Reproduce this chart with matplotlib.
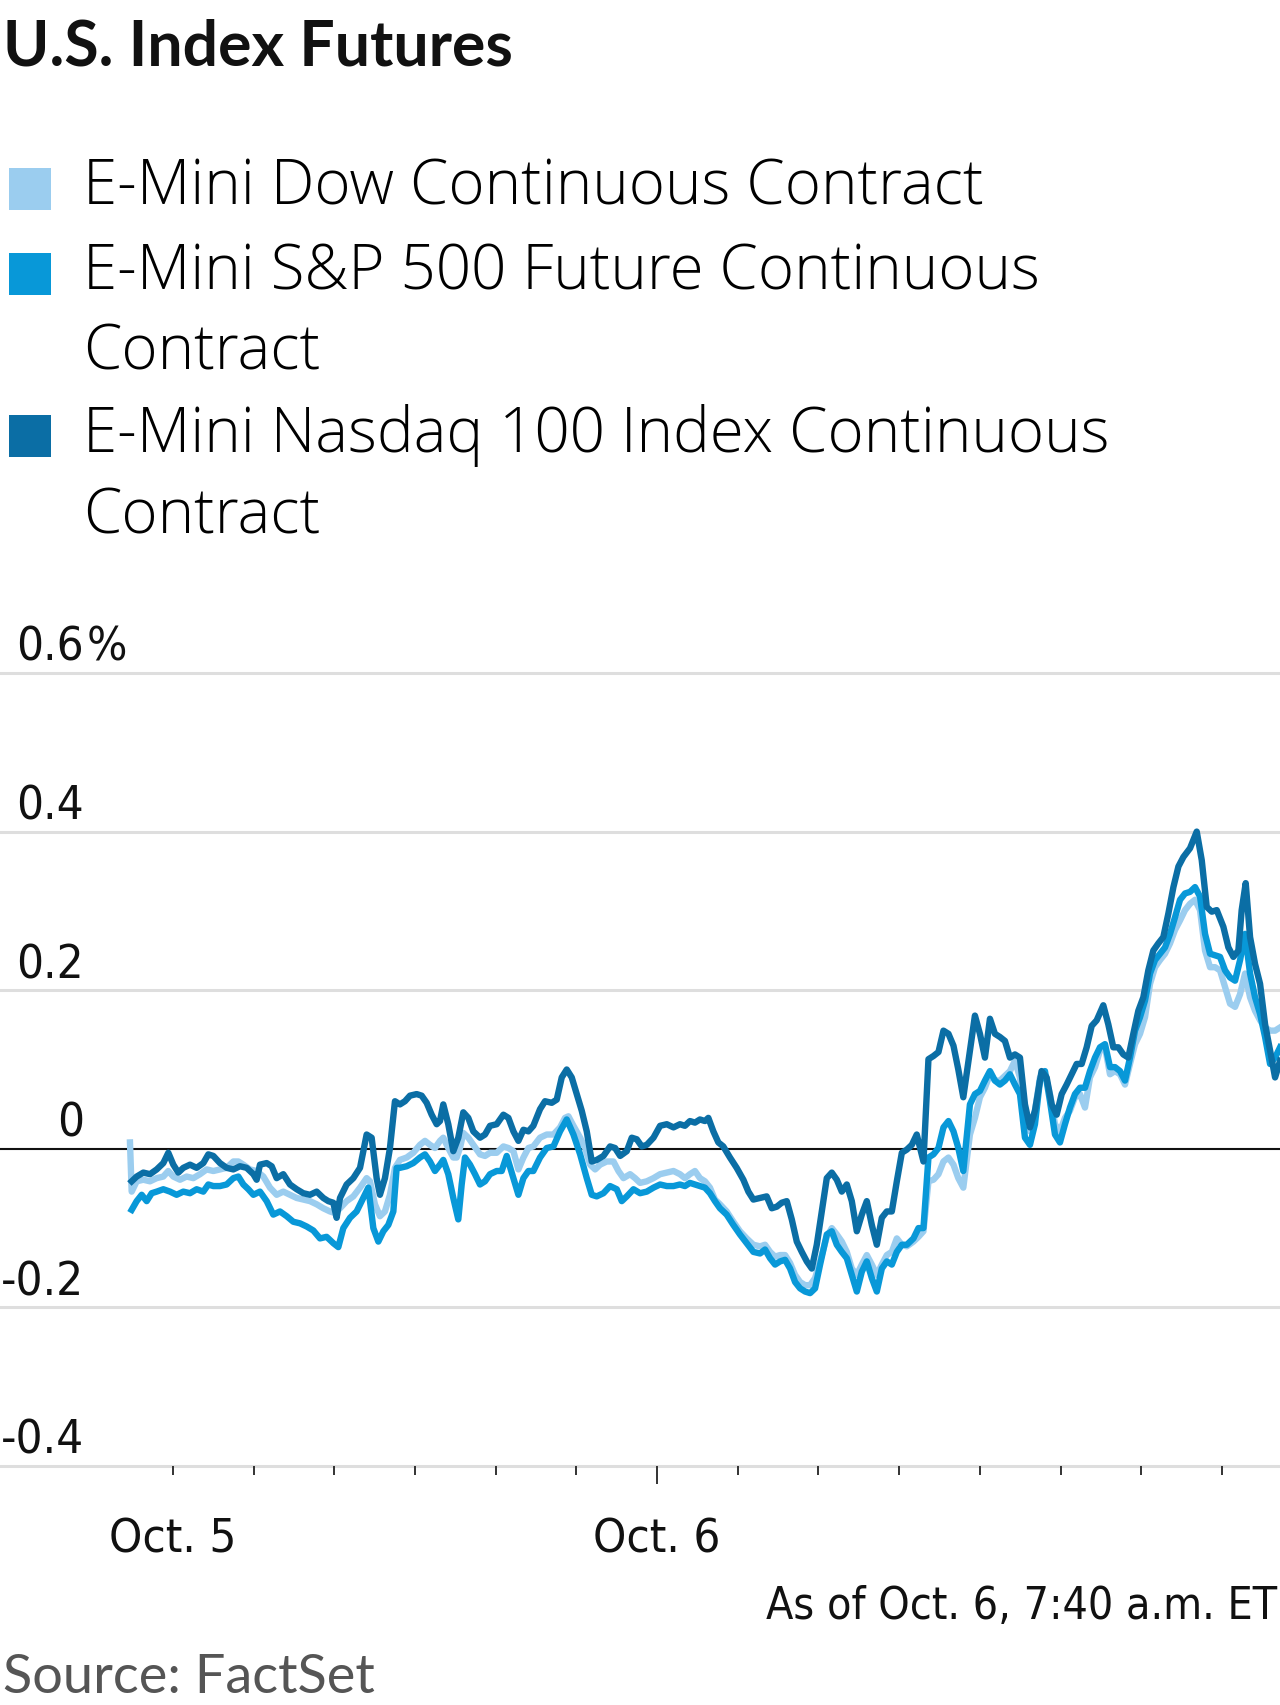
import matplotlib
matplotlib.use("Agg")
import matplotlib.pyplot as plt
import matplotlib.transforms as mtransforms
from matplotlib.patches import Rectangle
from matplotlib import font_manager
from matplotlib.font_manager import FontProperties

# pick fonts that exist in the box
installed = {f.name for f in font_manager.fontManager.ttflist}
SANS = "Lato" if "Lato" in installed else "DejaVu Sans"
LEGEND_FONT = "Open Sans" if "Open Sans" in installed else SANS


def find_narrow():
    # any condensed / narrow face, weight as close to light-regular as possible
    best = None
    for f in font_manager.fontManager.ttflist:
        nm = f.name.lower()
        narrowish = (f.stretch in ("condensed", "semi-condensed", "extra-condensed", "ultra-condensed")
                     or "narrow" in nm or "condensed" in nm)
        if not narrowish or f.style != "normal":
            continue
        w = f.weight if isinstance(f.weight, int) else 400
        score = abs(w - 370)
        if best is None or score < best[0]:
            best = (score, f.fname)
    return best[1] if best else None


narrow_file = find_narrow()


def narrow(size):
    if narrow_file:
        return FontProperties(fname=narrow_file, size=size)
    return FontProperties(family=SANS, size=size * 0.85)


TITLE = "U.S. Index Futures"
NOTE = "As of Oct. 6, 7:40 a.m. ET"
SOURCE = "Source: FactSet"

series_labels = ["E-Mini Dow Continuous Contract",
                 "E-Mini S&P 500 Future Continuous\nContract",
                 "E-Mini Nasdaq 100 Index Continuous\nContract"]
series_colors = ["#9bcdef", "#0898d8", "#0b6ea5"]

# x is in axis-tick units (Oct. 5 tick = 0, Oct. 6 tick = 6), y is % change
dow_x = [-0.533, -0.512, -0.450, -0.368, -0.285, -0.202, -0.120, -0.058, 0.004, 0.087, 0.169, 0.252, 0.335,
         0.417, 0.500, 0.582, 0.665, 0.748, 0.810, 0.872, 0.954, 1.037, 1.120, 1.202, 1.285, 1.367, 1.450,
         1.533, 1.615, 1.698, 1.781, 1.863, 1.946, 2.008, 2.070, 2.152, 2.235, 2.318, 2.400, 2.441, 2.503,
         2.565, 2.627, 2.689, 2.751,
         2.813, 2.896, 2.978, 3.061, 3.123, 3.185, 3.247, 3.309, 3.350, 3.412, 3.474, 3.516, 3.557, 3.598,
         3.660, 3.722, 3.805, 3.867, 3.929, 4.012, 4.095, 4.157, 4.219, 4.281, 4.343, 4.405, 4.466, 4.549,
         4.632, 4.715, 4.797, 4.859, 4.901, 4.963, 5.046, 5.108, 5.170, 5.232, 5.294, 5.376, 5.459, 5.521,
         5.583, 5.665, 5.727, 5.789, 5.872, 5.955, 6.037, 6.120, 6.203,
         6.283, 6.345, 6.407, 6.469, 6.531, 6.593, 6.655, 6.717, 6.779, 6.862, 6.945, 7.027, 7.110, 7.193,
         7.276, 7.338, 7.400, 7.462, 7.524, 7.586, 7.648, 7.710, 7.772, 7.834, 7.896, 7.958, 8.020, 8.103,
         8.165, 8.227, 8.289, 8.351, 8.413, 8.475, 8.537, 8.599, 8.661, 8.723, 8.785, 8.847, 8.909, 8.971,
         9.033, 9.095, 9.177, 9.239, 9.301, 9.363, 9.425, 9.487, 9.549, 9.611, 9.673, 9.733, 9.795,
         9.877, 9.939, 10.001, 10.063, 10.125, 10.187, 10.249, 10.311, 10.373, 10.435, 10.497, 10.559,
         10.621, 10.683, 10.745, 10.807, 10.869, 10.931, 10.993, 11.055, 11.117, 11.179, 11.241, 11.303,
         11.365, 11.427, 11.489, 11.551, 11.613, 11.675, 11.737, 11.799, 11.861, 11.923, 11.985, 12.047,
         12.109, 12.171, 12.233, 12.295, 12.357, 12.419, 12.481, 12.543, 12.605, 12.667, 12.729, 12.791,
         12.853, 12.915, 12.977, 13.039, 13.101, 13.163, 13.225, 13.287, 13.349, 13.411, 13.473, 13.535,
         13.597, 13.659, 13.721]
dow_y = [0.008, -0.054, -0.041, -0.039, -0.041, -0.037, -0.035, -0.028, -0.035, -0.039, -0.035, -0.037, -0.032,
         -0.026, -0.028, -0.026, -0.024, -0.016, -0.016, -0.020, -0.026, -0.028, -0.035, -0.049, -0.058, -0.054,
         -0.058, -0.062, -0.064, -0.066, -0.070, -0.075, -0.079, -0.081, -0.075, -0.066, -0.060, -0.049, -0.037,
         -0.041, -0.070, -0.085, -0.079, -0.058, -0.024,
         -0.014, -0.011, -0.005, 0.005, 0.010, 0.005, 0.001, 0.010, 0.014, 0.001, -0.011, -0.011, 0.001, 0.020,
         0.014, 0.005, -0.007, -0.009, -0.005, -0.005, 0.003, 0.001, -0.003, -0.026, -0.011, 0.001, 0.003, 0.014,
         0.018, 0.018, 0.027, 0.039, 0.041, 0.029, 0.014, 0.001, -0.020, -0.026, -0.020, -0.016, -0.016, -0.028,
         -0.037, -0.032, -0.037, -0.043, -0.041, -0.037, -0.032, -0.030, -0.028,
         -0.032, -0.037, -0.032, -0.028, -0.037, -0.041, -0.049, -0.064, -0.070, -0.079, -0.092, -0.104, -0.113,
         -0.121, -0.123, -0.121, -0.130, -0.136, -0.134, -0.134, -0.144, -0.159, -0.168, -0.172, -0.172, -0.163,
         -0.142, -0.111, -0.100, -0.108, -0.117, -0.130, -0.151, -0.159, -0.146, -0.134, -0.146, -0.159, -0.146,
         -0.134, -0.130, -0.113, -0.121, -0.123, -0.117, -0.111, -0.104, -0.041, -0.039, -0.032, -0.016, -0.011,
         -0.020, -0.037, -0.049,
         0.018, 0.039, 0.065, 0.077, 0.094, 0.086, 0.086, 0.092, 0.098, 0.111, 0.090, 0.039, 0.022, 0.048, 0.090,
         0.094, 0.069, 0.031, 0.022, 0.039, 0.048, 0.065, 0.069, 0.052, 0.090, 0.103, 0.124, 0.128, 0.094, 0.098,
         0.094, 0.081, 0.107, 0.132, 0.145, 0.166, 0.208, 0.229, 0.238, 0.246, 0.259, 0.276, 0.288, 0.301, 0.309,
         0.314, 0.301, 0.250, 0.229, 0.229, 0.225, 0.204, 0.183, 0.179, 0.195, 0.221, 0.191, 0.174, 0.162, 0.153,
         0.149, 0.149, 0.153]

spx_x = [-0.512, -0.450, -0.388, -0.326, -0.264, -0.202, -0.120, -0.037, 0.045, 0.128, 0.211, 0.293, 0.376,
         0.438, 0.500, 0.582, 0.665, 0.748, 0.810, 0.872, 0.934, 0.996, 1.078, 1.161, 1.243, 1.326, 1.409,
         1.491, 1.574, 1.657, 1.739, 1.822, 1.904, 1.987, 2.049, 2.111, 2.194, 2.276, 2.359, 2.421, 2.483,
         2.545, 2.607, 2.669, 2.731, 2.772,
         2.813, 2.896, 2.978, 3.061, 3.123, 3.185, 3.247, 3.309, 3.350, 3.412, 3.474, 3.536, 3.578, 3.619,
         3.681, 3.743, 3.805, 3.867, 3.929, 4.012, 4.074, 4.136, 4.219, 4.281, 4.343, 4.405, 4.466, 4.549,
         4.632, 4.715, 4.797, 4.880, 4.963, 5.046, 5.128, 5.190, 5.252, 5.335, 5.417, 5.500, 5.562, 5.624,
         5.707, 5.789, 5.872, 5.955, 6.037, 6.120, 6.203,
         6.283, 6.345, 6.407, 6.469, 6.531, 6.593, 6.655, 6.717, 6.779, 6.862, 6.945, 7.027, 7.110, 7.193,
         7.276, 7.338, 7.400, 7.462, 7.524, 7.586, 7.648, 7.710, 7.772, 7.834, 7.896, 7.958, 8.020, 8.103,
         8.165, 8.227, 8.289, 8.351, 8.413, 8.475, 8.537, 8.599, 8.661, 8.723, 8.785, 8.847, 8.909, 8.971,
         9.033, 9.095, 9.177, 9.239, 9.301, 9.363, 9.425, 9.487, 9.549, 9.611, 9.673, 9.733, 9.795,
         9.877, 9.939, 10.001, 10.063, 10.125, 10.187, 10.249, 10.311, 10.373, 10.435, 10.497, 10.559,
         10.621, 10.683, 10.745, 10.807, 10.869, 10.931, 10.993, 11.055, 11.117, 11.179, 11.241, 11.303,
         11.365, 11.427, 11.489, 11.551, 11.613, 11.675, 11.737, 11.799, 11.861, 11.923, 11.985, 12.047,
         12.109, 12.171, 12.233, 12.295, 12.357, 12.419, 12.481, 12.543, 12.605, 12.667, 12.729, 12.791,
         12.853, 12.915, 12.977, 13.039, 13.101, 13.163, 13.225, 13.287, 13.349, 13.411, 13.473, 13.535,
         13.597, 13.659, 13.721]
spx_y = [-0.077, -0.066, -0.058, -0.066, -0.056, -0.054, -0.051, -0.054, -0.058, -0.054, -0.056, -0.051, -0.054,
         -0.045, -0.047, -0.047, -0.045, -0.037, -0.035, -0.045, -0.051, -0.058, -0.054, -0.066, -0.083, -0.079,
         -0.085, -0.092, -0.094, -0.098, -0.103, -0.113, -0.111, -0.119, -0.124, -0.100, -0.087, -0.079, -0.062,
         -0.049, -0.100, -0.117, -0.104, -0.096, -0.079, -0.024,
         -0.024, -0.022, -0.018, -0.011, -0.007, -0.016, -0.028, -0.020, -0.014, -0.032, -0.062, -0.089, -0.045,
         -0.011, -0.020, -0.032, -0.045, -0.041, -0.032, -0.028, -0.028, -0.009, -0.037, -0.058, -0.037, -0.028,
         -0.028, -0.011, 0.001, 0.003, 0.022, 0.037, 0.018, -0.007, -0.037, -0.058, -0.060, -0.056, -0.047,
         -0.051, -0.066, -0.060, -0.051, -0.056, -0.054, -0.049, -0.045, -0.047, -0.047,
         -0.045, -0.047, -0.043, -0.045, -0.047, -0.049, -0.056, -0.066, -0.075, -0.083, -0.096, -0.108, -0.119,
         -0.130, -0.132, -0.127, -0.138, -0.146, -0.142, -0.140, -0.151, -0.168, -0.176, -0.180, -0.182, -0.176,
         -0.146, -0.108, -0.104, -0.121, -0.130, -0.138, -0.159, -0.180, -0.155, -0.142, -0.163, -0.180, -0.151,
         -0.142, -0.146, -0.130, -0.121, -0.121, -0.113, -0.100, -0.100, -0.011, -0.007, 0.001, 0.027, 0.035,
         0.022, 0.001, -0.028,
         0.056, 0.069, 0.073, 0.086, 0.098, 0.086, 0.081, 0.086, 0.094, 0.081, 0.069, 0.014, 0.005, 0.031, 0.086,
         0.098, 0.060, 0.018, 0.008, 0.031, 0.052, 0.069, 0.077, 0.077, 0.098, 0.115, 0.128, 0.132, 0.103, 0.103,
         0.098, 0.086, 0.115, 0.149, 0.166, 0.187, 0.221, 0.238, 0.246, 0.254, 0.271, 0.292, 0.314, 0.322, 0.324,
         0.330, 0.318, 0.271, 0.246, 0.244, 0.242, 0.225, 0.216, 0.212, 0.238, 0.271, 0.221, 0.191, 0.170, 0.141,
         0.107, 0.115, 0.128]

ndx_x = [-0.512, -0.450, -0.368, -0.285, -0.202, -0.120, -0.058, 0.004, 0.066, 0.128, 0.211, 0.293, 0.376,
         0.438, 0.500, 0.582, 0.665, 0.748, 0.830, 0.913, 0.996, 1.037, 1.078, 1.161, 1.223, 1.285, 1.367,
         1.450, 1.533, 1.615, 1.698, 1.781, 1.863, 1.925, 1.987, 2.028, 2.070, 2.152, 2.235, 2.318, 2.400,
         2.462, 2.524, 2.565, 2.627, 2.689, 2.751,
         2.813, 2.875, 2.937, 3.020, 3.082, 3.144, 3.206, 3.268, 3.309, 3.350, 3.412, 3.474, 3.536, 3.598,
         3.660, 3.722, 3.805, 3.867, 3.929, 4.012, 4.095, 4.157, 4.219, 4.281, 4.343, 4.405, 4.466, 4.549,
         4.611, 4.694, 4.756, 4.818, 4.880, 4.942, 5.004, 5.066, 5.128, 5.190, 5.252, 5.335, 5.417, 5.479,
         5.542, 5.624, 5.686, 5.748, 5.810, 5.872, 5.955, 6.037, 6.120, 6.203,
         6.283, 6.345, 6.407, 6.469, 6.531, 6.593, 6.635, 6.697, 6.759, 6.820, 6.903, 6.986, 7.069, 7.131,
         7.193, 7.276, 7.358, 7.421, 7.483, 7.545, 7.607, 7.669, 7.731, 7.793, 7.855, 7.917, 7.979, 8.041,
         8.103, 8.165, 8.227, 8.289, 8.351, 8.413, 8.475, 8.537, 8.599, 8.661, 8.723, 8.785, 8.847, 8.909,
         8.971, 9.033, 9.095, 9.157, 9.218, 9.260, 9.301, 9.363, 9.425, 9.487, 9.549, 9.611, 9.673, 9.733,
         9.795,
         9.877, 9.939, 10.001, 10.063, 10.125, 10.187, 10.249, 10.311, 10.373, 10.435, 10.497, 10.559,
         10.621, 10.683, 10.765, 10.828, 10.890, 10.952, 11.014, 11.076, 11.138, 11.200, 11.262, 11.324,
         11.386, 11.448, 11.530, 11.592, 11.654, 11.716, 11.778, 11.840, 11.902, 11.964, 12.026, 12.088,
         12.150, 12.212, 12.274, 12.337, 12.399, 12.461, 12.523, 12.605, 12.688, 12.750, 12.812, 12.874,
         12.936, 13.018, 13.080, 13.142, 13.204, 13.245, 13.295, 13.349, 13.411, 13.473, 13.535, 13.597,
         13.659, 13.721]
ndx_y = [-0.041, -0.035, -0.030, -0.032, -0.026, -0.018, -0.005, -0.020, -0.030, -0.024, -0.020, -0.024, -0.018,
         -0.007, -0.009, -0.018, -0.024, -0.026, -0.022, -0.024, -0.032, -0.039, -0.020, -0.018, -0.022, -0.037,
         -0.032, -0.045, -0.051, -0.056, -0.058, -0.054, -0.062, -0.066, -0.068, -0.087, -0.062, -0.045, -0.037,
         -0.024, 0.018, 0.014, -0.037, -0.058, -0.037, 0.001, 0.060,
         0.056, 0.060, 0.067, 0.069, 0.067, 0.058, 0.043, 0.031, 0.035, 0.056, 0.031, -0.003, 0.014, 0.046, 0.039,
         0.022, 0.014, 0.018, 0.029, 0.031, 0.043, 0.039, 0.022, 0.010, 0.024, 0.022, 0.029, 0.050, 0.060, 0.058,
         0.062, 0.090, 0.100, 0.090, 0.069, 0.048, 0.022, -0.016, -0.014, -0.009, 0.003, 0.001, -0.009, -0.003,
         0.014, 0.012, 0.003, 0.005, 0.014, 0.029, 0.031, 0.027,
         0.031, 0.029, 0.035, 0.033, 0.037, 0.035, 0.039, 0.022, 0.008, 0.003, -0.011, -0.024, -0.039, -0.054,
         -0.064, -0.062, -0.060, -0.075, -0.073, -0.068, -0.066, -0.089, -0.117, -0.130, -0.142, -0.151, -0.121,
         -0.079, -0.037, -0.030, -0.039, -0.054, -0.045, -0.066, -0.104, -0.083, -0.066, -0.096, -0.121, -0.087,
         -0.079, -0.079, -0.041, -0.005, -0.001, 0.005, 0.018, 0.001, -0.016, 0.113, 0.117, 0.122, 0.149, 0.145,
         0.130, 0.100, 0.065,
         0.124, 0.168, 0.145, 0.115, 0.164, 0.145, 0.141, 0.136, 0.115, 0.119, 0.115, 0.056, 0.027, 0.048, 0.098,
         0.090, 0.056, 0.043, 0.069, 0.081, 0.094, 0.107, 0.107, 0.128, 0.155, 0.162, 0.181, 0.157, 0.128, 0.128,
         0.119, 0.115, 0.145, 0.174, 0.191, 0.225, 0.250, 0.259, 0.267, 0.297, 0.330, 0.356, 0.368, 0.379, 0.400,
         0.364, 0.305, 0.299, 0.301, 0.280, 0.254, 0.242, 0.250, 0.301, 0.335, 0.267, 0.233, 0.208, 0.157, 0.124,
         0.090, 0.111]

y_ticks = [-0.4, -0.2, 0, 0.2, 0.4, 0.6]
y_tick_labels = ["-0.4", "-0.2", "0", "0.2", "0.4", "0.6"]
x_ticks = list(range(14))
x_tick_labels = {0: "Oct. 5", 6: "Oct. 6"}

W, H = 1280, 1706
fig = plt.figure(figsize=(W / 100, H / 100), dpi=100)
fig.patch.set_facecolor("white")


def fx(px):
    return px / W


def fy(py):
    return 1 - py / H


# plot area spans the full width, from the 0.6 line down to the -0.4 line
ax = fig.add_axes([0, fy(1467), 1, fy(674) - fy(1467)])
ax.set_xlim(-2.144, 13.72)
ax.set_ylim(-0.4, 0.6)
for s in ax.spines.values():
    s.set_visible(False)
ax.set_yticks([])

for v in y_ticks:
    if v == 0:
        ax.axhline(v, color="#111111", lw=1.5, zorder=2, clip_on=False)
    else:
        ax.axhline(v, color="#dedede", lw=2.2, zorder=1, clip_on=False)

all_series = [(dow_x, dow_y), (spx_x, spx_y), (ndx_x, ndx_y)]
for (xs, ys), c in zip(all_series, series_colors):
    ax.plot(xs, ys, color=c, lw=4.6, solid_joinstyle="round", zorder=3)

# x ticks: the Oct. 6 tick is long, the rest short
ax.set_xticks([6])
ax.set_xticks([t for t in x_ticks if t != 6], minor=True)
ax.tick_params(axis="x", which="major", length=13, width=1.4, color="#333333", labelbottom=False)
ax.tick_params(axis="x", which="minor", length=6.5, width=1.4, color="#333333", labelbottom=False)

TICK_SIZE = 34
xtrans = mtransforms.blended_transform_factory(ax.transData, ax.transAxes)
for t, lab in x_tick_labels.items():
    ax.annotate(lab, xy=(t, 0), xycoords=xtrans, xytext=(0, -86), textcoords="offset pixels",
                ha="center", va="baseline", fontproperties=narrow(TICK_SIZE), color="#111111")

ytrans = mtransforms.blended_transform_factory(ax.transAxes, ax.transData)
ylabel_texts = []
for v, lab in zip(y_ticks, y_tick_labels):
    ylabel_texts.append(ax.annotate(lab, xy=(0, v), xycoords=ytrans, xytext=(84, 13),
                                    textcoords="offset pixels", ha="right", va="baseline",
                                    fontproperties=narrow(TICK_SIZE), color="#111111"))

# header
fig.text(fx(3), fy(65), TITLE, fontsize=45, fontweight="bold", family=SANS, color="#111111", va="baseline")

sq_tops = [169, 254, 416]
line_baselines = [[205], [290, 369], [452, 533]]
for lab, c, top, bases in zip(series_labels, series_colors, sq_tops, line_baselines):
    fig.patches.append(Rectangle((fx(9), fy(top + 42)), 42 / W, 42 / H, transform=fig.transFigure,
                                 facecolor=c, edgecolor="none"))
    for part, b in zip(lab.split("\n"), bases):
        fig.text(fx(83), fy(b), part, fontsize=44.5, fontweight="light", family=LEGEND_FONT,
                 color="#000000", va="baseline")

fig.text(fx(1277), fy(1619), NOTE, fontproperties=narrow(32), color="#111111", ha="right", va="baseline")
fig.text(fx(3), fy(1693), SOURCE, fontsize=39, family=SANS, color="#555555", va="baseline")

# the % sign hangs right after the top label
fig.canvas.draw()
bb = ylabel_texts[-1].get_window_extent(fig.canvas.get_renderer())
ax.annotate("%", xy=(0, y_ticks[-1]), xycoords=ytrans, xytext=(bb.x1 + 3, 13), textcoords="offset pixels",
            ha="left", va="baseline", fontproperties=narrow(TICK_SIZE), color="#111111")

fig.savefig("out.png", dpi=100, facecolor="white")
